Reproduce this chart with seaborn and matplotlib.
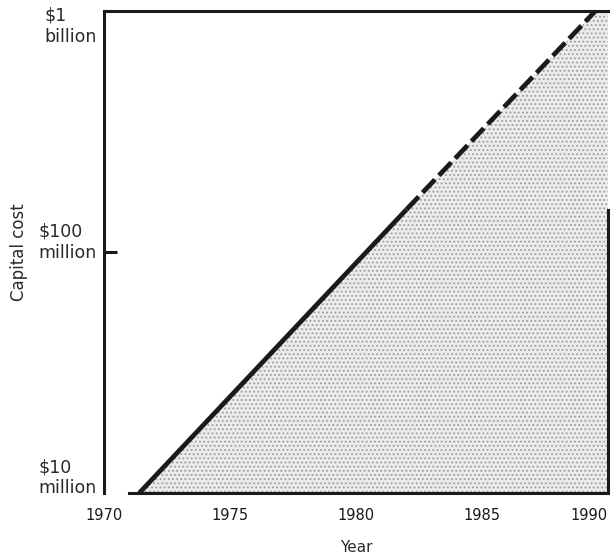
import matplotlib
matplotlib.use("Agg")
import matplotlib.pyplot as plt
import matplotlib.transforms as mtransforms
import seaborn as sns
import pandas as pd

# Capital cost trend (millions of dollars), solid = observed, dashed = projected
solid_years = [1971.4, 1982.0]
solid_cost = [10, 150]
dashed_years = [1982.0, 1989.5]
dashed_cost = [150, 1000]

year_ticks = [1970, 1975, 1980, 1985, 1990]
cost_ticks = [10, 100, 1000]
cost_labels = ["$10\nmillion", "$100\nmillion", "$1\nbillion"]

INK = "#1a1a1a"


def build_frames():
    solid = pd.DataFrame({"year": solid_years, "cost": solid_cost})
    dashed = pd.DataFrame({"year": dashed_years, "cost": dashed_cost})
    return solid, dashed


def draw(solid, dashed):
    sns.set_style("ticks")
    plt.rcParams["font.family"] = ["DejaVu Sans"]
    plt.rcParams["hatch.linewidth"] = 0.8

    fig = plt.figure(figsize=(6.1, 5.58), dpi=100)
    ax = fig.add_axes([0.1705, 0.1165, 0.826, 0.8635])
    ax.set_yscale("log")

    # stippled area under the trend, out to the right edge
    fill_x = solid_years + dashed_years[1:] + [year_ticks[-1]]
    fill_y = solid_cost + dashed_cost[1:] + [cost_ticks[-1]]
    ax.fill_between(fill_x, fill_y, cost_ticks[0], facecolor="#ebebeb",
                    edgecolor="#9c9c9c", hatch="....", linewidth=0, zorder=1)

    sns.lineplot(data=solid, x="year", y="cost", ax=ax, color=INK,
                 linewidth=3.4, solid_capstyle="butt", zorder=3)
    sns.lineplot(data=dashed, x="year", y="cost", ax=ax, color=INK,
                 linewidth=3.4, linestyle=(0, (3.8, 1.2)), zorder=3)

    ax.set_xlim(year_ticks[0], year_ticks[-1])
    ax.set_ylim(cost_ticks[0], cost_ticks[-1])

    for side in ["left", "bottom", "top", "right"]:
        ax.spines[side].set_linewidth(2.2)
        ax.spines[side].set_color(INK)
    ax.spines["bottom"].set_bounds(1971.0, year_ticks[-1])
    ax.spines["right"].set_bounds(cost_ticks[0], 150)

    ax.set_xticks(year_ticks)
    ax.set_xticklabels([str(y) for y in year_ticks])
    ax.set_yticks(cost_ticks)
    ax.set_yticklabels(cost_labels)
    ax.minorticks_off()
    ax.tick_params(axis="x", direction="in", length=11, width=3, color=INK,
                   pad=11, labelsize=10.5, labelcolor=INK)
    ax.tick_params(axis="y", direction="in", length=9.5, width=2.2, color=INK,
                   pad=5, labelsize=12.5, labelcolor="#2a2a2a")

    # only the inner ticks carry marks
    xticks = ax.xaxis.get_major_ticks()
    xticks[0].tick1line.set_visible(False)
    xticks[-1].tick1line.set_visible(False)
    yticks = ax.yaxis.get_major_ticks()
    yticks[0].tick1line.set_visible(False)
    yticks[2].tick1line.set_visible(False)

    ylabs = ax.get_yticklabels()
    for lab in ylabs:
        lab.set_multialignment("left")
    ylabs[0].set_verticalalignment("bottom")
    ylabs[0].set_transform(ylabs[0].get_transform() +
                           mtransforms.ScaledTranslation(0, -3 / 72, fig.dpi_scale_trans))
    ylabs[1].set_verticalalignment("center")
    ylabs[1].set_transform(ylabs[1].get_transform() +
                           mtransforms.ScaledTranslation(0, 7 / 72, fig.dpi_scale_trans))
    ylabs[2].set_verticalalignment("top")
    ylabs[2].set_transform(ylabs[2].get_transform() +
                           mtransforms.ScaledTranslation(0, 3 / 72, fig.dpi_scale_trans))

    xlabs = ax.get_xticklabels()
    xlabs[-1].set_horizontalalignment("right")

    ax.set_xlabel("Year", fontsize=11, color="#2a2a2a", labelpad=12)
    ax.set_ylabel("Capital cost", fontsize=12, color="#2a2a2a", labelpad=4)
    ax.yaxis.set_label_coords(-0.15, 0.5)

    fig.savefig("out.png", dpi=100)


def main():
    solid, dashed = build_frames()
    draw(solid, dashed)


if __name__ == "__main__":
    main()
